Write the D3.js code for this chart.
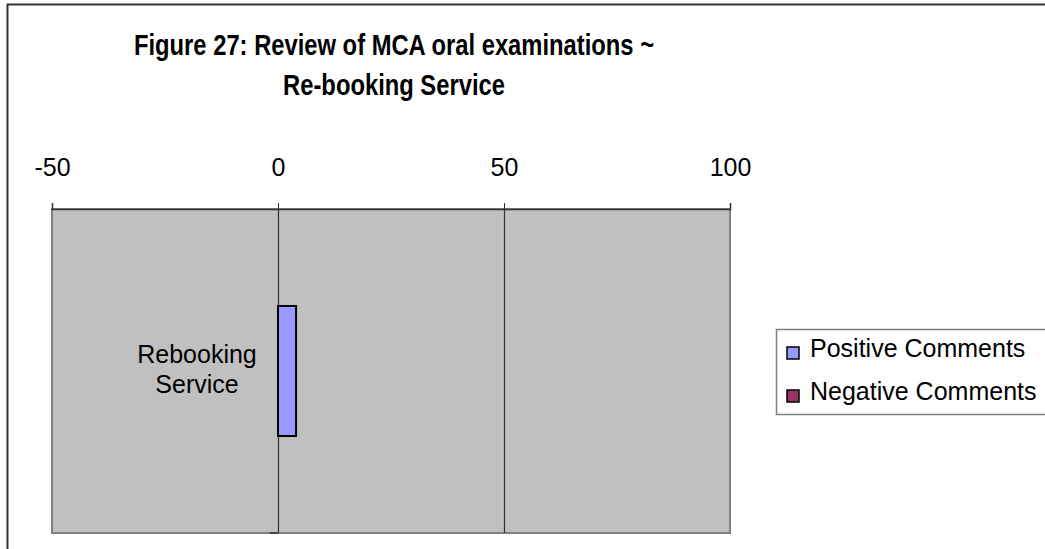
<!DOCTYPE html>
<html><head><meta charset="utf-8">
<script src="https://cdn.jsdelivr.net/npm/d3@7"></script>
<style>body{margin:0;background:#fff}svg{display:block;font-family:"Liberation Sans",Arial,sans-serif}</style>
</head><body>
<script>
const categories = ["Rebooking Service"];
const seriesNames = ["Positive Comments", "Negative Comments"];
const positive = [4];
const negative = [0];
const xTicks = [-50, 0, 50, 100];
const colors = ["#9999ff", "#993366"];
const titleLines = ["Figure 27: Review of MCA oral examinations ~", "Re-booking Service"];

const W = 1045, H = 549;
const svg = d3.select("body").append("svg").attr("width", W).attr("height", H);

// outer frame
svg.append("path").attr("d", `M7.5,${H+5} V4.5 H${W+5}`).attr("fill","none").attr("stroke","#333").attr("stroke-width",2);

// title (condensed glyphs as in the reference)
const tg = svg.append("g").attr("transform", "translate(394,0) scale(0.82,1)");
tg.append("text").attr("x", 0).attr("y", 55).attr("text-anchor","middle")
  .attr("font-size", 29).attr("font-weight","bold").text(titleLines[0]);
tg.append("text").attr("x", 0).attr("y", 95).attr("text-anchor","middle")
  .attr("font-size", 29).attr("font-weight","bold").text(titleLines[1]);

const plot = {left: 52, right: 730, top: 209, bottom: 533};
const x = d3.scaleLinear().domain([-50, 100]).range([plot.left, plot.right]);
const y = d3.scaleBand().domain(categories).range([plot.top, plot.bottom]).paddingInner(0).paddingOuter(0.746);

// plot background
svg.append("rect").attr("x", plot.left).attr("y", plot.top)
  .attr("width", plot.right - plot.left).attr("height", plot.bottom - plot.top)
  .attr("fill", "#c0c0c0").attr("stroke", "#808080").attr("stroke-width", 2);

// gridlines
svg.append("g").selectAll("line").data(xTicks.filter(t => t !== -50 && t !== 100)).join("line")
  .attr("x1", d => Math.round(x(d)) + 0.5).attr("x2", d => Math.round(x(d)) + 0.5)
  .attr("y1", plot.top).attr("y2", plot.bottom)
  .attr("stroke", "#333").attr("stroke-width", 1.2);

// category axis tick at bottom
svg.append("line").attr("x1", x(0) - 8).attr("x2", x(0)).attr("y1", plot.bottom).attr("y2", plot.bottom)
  .attr("stroke", "#333").attr("stroke-width", 1.5);

// top value axis
const axis = d3.axisTop(x).tickValues(xTicks).tickSize(6).tickPadding(27).tickFormat(d => String(d));
const ag = svg.append("g").attr("transform", `translate(0,${plot.top})`).call(axis);
ag.select(".domain").attr("stroke", "#333").attr("stroke-width", 1.5);
ag.selectAll(".tick line").attr("stroke", "#333");
ag.selectAll("text").attr("font-size", 25).attr("fill", "#000").attr("font-family", "Liberation Sans, Arial, sans-serif");

// bars
const data = categories.map((c, i) => ({c, vals: [positive[i], negative[i]]}));
const bars = svg.append("g");
data.forEach(d => {
  d.vals.forEach((v, s) => {
    if (v === 0) return;
    bars.append("rect")
      .attr("x", Math.min(x(0), x(v))).attr("y", y(d.c))
      .attr("width", Math.abs(x(v) - x(0))).attr("height", y.bandwidth())
      .attr("fill", colors[s]).attr("stroke", "#000").attr("stroke-width", 2);
  });
});

// category labels
data.forEach(d => {
  const parts = ["Rebooking", "Service"];
  const cy = y(d.c) + y.bandwidth() / 2;
  parts.forEach((p, k) => {
    svg.append("text").attr("x", 197).attr("y", cy - 8 + k * 30).attr("text-anchor", "middle")
      .attr("font-size", 25).text(p);
  });
});

// legend
const lg = svg.append("g");
lg.append("rect").attr("x", 776.5).attr("y", 329.5).attr("width", 300).attr("height", 85)
  .attr("fill", "#fff").attr("stroke", "#808080").attr("stroke-width", 1.5);
seriesNames.forEach((n, i) => {
  const base = 357 + i * 43;
  lg.append("rect").attr("x", 787).attr("y", base - 10).attr("width", 12).attr("height", 12)
    .attr("fill", colors[i]).attr("stroke", "#000").attr("stroke-width", 1.5);
  lg.append("text").attr("x", 810).attr("y", base).attr("font-size", 25).text(n);
});
</script>
</body></html>
